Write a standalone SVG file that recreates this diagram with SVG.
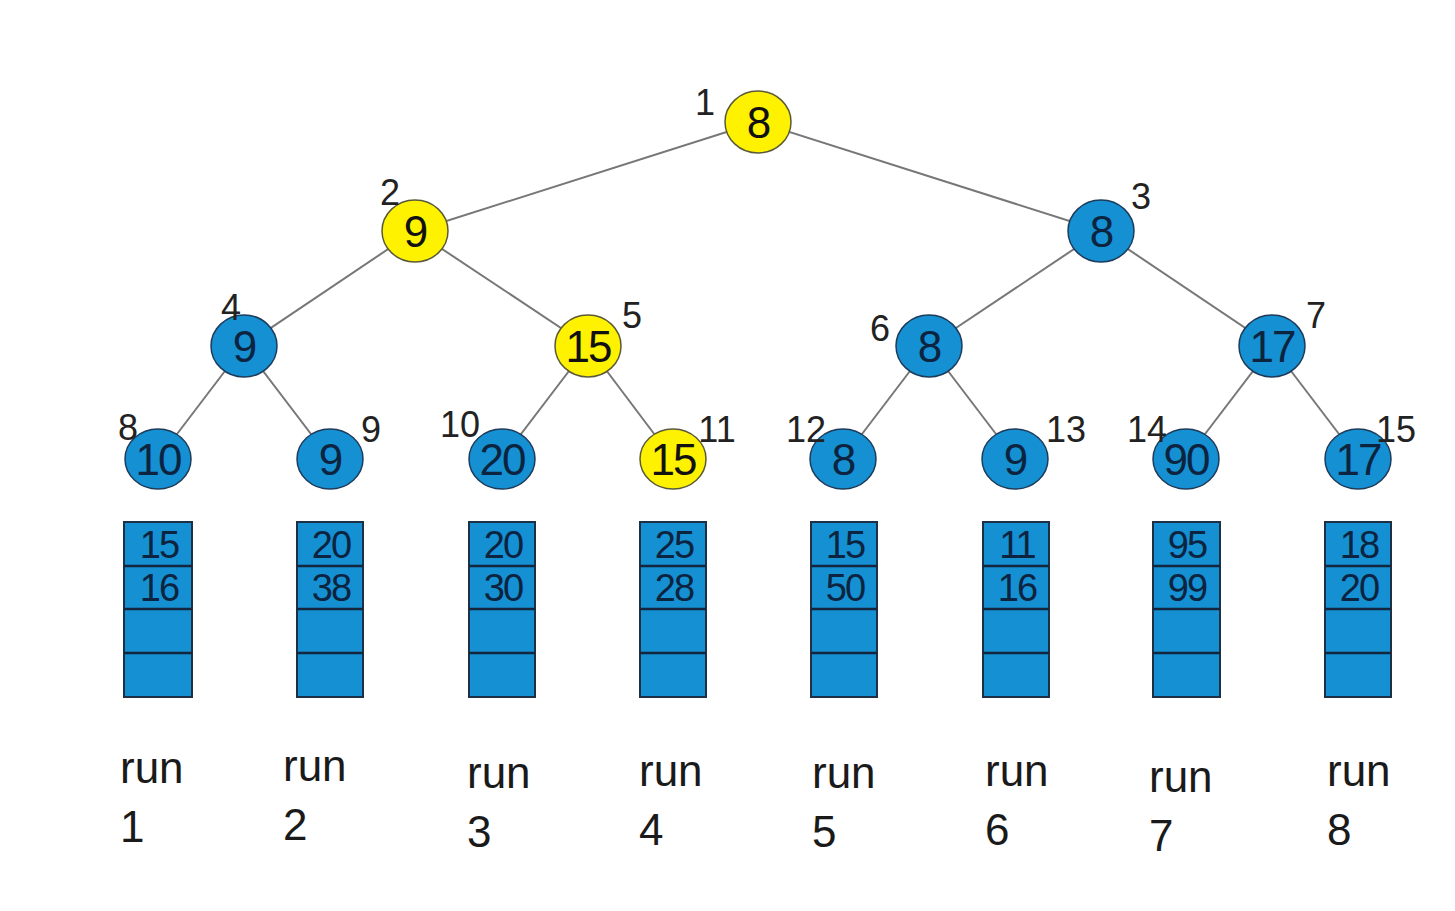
<svg xmlns="http://www.w3.org/2000/svg" width="1455" height="911" viewBox="0 0 1455 911">
<style>
.y{fill:#fff200;stroke:#5a5a3a;stroke-width:1.5}
.b{fill:#1590d2;stroke:#1d3b5a;stroke-width:1.5}
.v{font-family:"Liberation Sans",Arial,sans-serif;font-size:44px;text-anchor:middle;letter-spacing:-2px}
.vy{fill:#111}
.vb{fill:#0c2440}
.idx{font-family:"Liberation Sans",Arial,sans-serif;font-size:36px;text-anchor:middle;fill:#222}
.e{stroke:#777;stroke-width:2;fill:none}
.box{fill:#1590d2;stroke:#1d3046;stroke-width:2}
.div{stroke:#13263d;stroke-width:2.5}
.bt{font-family:"Liberation Sans",Arial,sans-serif;font-size:38px;text-anchor:middle;fill:#0c2440;letter-spacing:-2px}
.run{font-family:"Liberation Sans",Arial,sans-serif;font-size:44px;fill:#1a1a1a}
</style>
<rect width="1455" height="911" fill="#fff"/>
<g id="connectors">
<line class="e" x1="758" y1="122" x2="415" y2="231"/>
<line class="e" x1="758" y1="122" x2="1101" y2="231"/>
<line class="e" x1="415" y1="231" x2="244" y2="346"/>
<line class="e" x1="415" y1="231" x2="588" y2="346"/>
<line class="e" x1="1101" y1="231" x2="929" y2="346"/>
<line class="e" x1="1101" y1="231" x2="1272" y2="346"/>
<line class="e" x1="244" y1="346" x2="158" y2="459"/>
<line class="e" x1="244" y1="346" x2="330" y2="459"/>
<line class="e" x1="588" y1="346" x2="502" y2="459"/>
<line class="e" x1="588" y1="346" x2="673" y2="459"/>
<line class="e" x1="929" y1="346" x2="843" y2="459"/>
<line class="e" x1="929" y1="346" x2="1015" y2="459"/>
<line class="e" x1="1272" y1="346" x2="1186" y2="459"/>
<line class="e" x1="1272" y1="346" x2="1358" y2="459"/>
</g>
<g id="n1"><ellipse class="y" cx="758" cy="122" rx="33" ry="31"/><text class="v vy" x="758" y="138">8</text><text class="idx" x="705" y="115">1</text></g>
<g id="n2"><ellipse class="y" cx="415" cy="231" rx="33" ry="31"/><text class="v vy" x="415" y="247">9</text><text class="idx" x="390" y="205">2</text></g>
<g id="n3"><ellipse class="b" cx="1101" cy="231" rx="33" ry="31"/><text class="v vb" x="1101" y="247">8</text><text class="idx" x="1141" y="209">3</text></g>
<g id="n4"><ellipse class="b" cx="244" cy="346" rx="33" ry="31"/><text class="v vb" x="244" y="362">9</text><text class="idx" x="231" y="320">4</text></g>
<g id="n5"><ellipse class="y" cx="588" cy="346" rx="33" ry="31"/><text class="v vy" x="588" y="362">15</text><text class="idx" x="632" y="328">5</text></g>
<g id="n6"><ellipse class="b" cx="929" cy="346" rx="33" ry="31"/><text class="v vb" x="929" y="362">8</text><text class="idx" x="880" y="341">6</text></g>
<g id="n7"><ellipse class="b" cx="1272" cy="346" rx="33" ry="31"/><text class="v vb" x="1272" y="362">17</text><text class="idx" x="1316" y="328">7</text></g>
<g id="n8"><ellipse class="b" cx="158" cy="459" rx="33" ry="30"/><text class="v vb" x="158" y="475">10</text><text class="idx" x="128" y="440">8</text></g>
<g id="n9"><ellipse class="b" cx="330" cy="459" rx="33" ry="30"/><text class="v vb" x="330" y="475">9</text><text class="idx" x="371" y="442">9</text></g>
<g id="n10"><ellipse class="b" cx="502" cy="459" rx="33" ry="30"/><text class="v vb" x="502" y="475">20</text><text class="idx" x="460" y="437">10</text></g>
<g id="n11"><ellipse class="y" cx="673" cy="459" rx="33" ry="30"/><text class="v vy" x="673" y="475">15</text><text class="idx" x="717" y="442">11</text></g>
<g id="n12"><ellipse class="b" cx="843" cy="459" rx="33" ry="30"/><text class="v vb" x="843" y="475">8</text><text class="idx" x="806" y="442">12</text></g>
<g id="n13"><ellipse class="b" cx="1015" cy="459" rx="33" ry="30"/><text class="v vb" x="1015" y="475">9</text><text class="idx" x="1066" y="442">13</text></g>
<g id="n14"><ellipse class="b" cx="1186" cy="459" rx="33" ry="30"/><text class="v vb" x="1186" y="475">90</text><text class="idx" x="1147" y="442">14</text></g>
<g id="n15"><ellipse class="b" cx="1358" cy="459" rx="33" ry="30"/><text class="v vb" x="1358" y="475">17</text><text class="idx" x="1396" y="442">15</text></g>
<g id="run1">
<rect class="box" x="124" y="522" width="68" height="175"/>
<line class="div" x1="124" y1="566" x2="192" y2="566"/><line class="div" x1="124" y1="609" x2="192" y2="609"/><line class="div" x1="124" y1="653" x2="192" y2="653"/>
<text class="bt" x="159" y="558">15</text><text class="bt" x="159" y="601">16</text>
<text class="run" x="120" y="783">run</text><text class="run" x="120" y="842">1</text>
</g>
<g id="run2">
<rect class="box" x="297" y="522" width="66" height="175"/>
<line class="div" x1="297" y1="566" x2="363" y2="566"/><line class="div" x1="297" y1="609" x2="363" y2="609"/><line class="div" x1="297" y1="653" x2="363" y2="653"/>
<text class="bt" x="331" y="558">20</text><text class="bt" x="331" y="601">38</text>
<text class="run" x="283" y="781">run</text><text class="run" x="283" y="840">2</text>
</g>
<g id="run3">
<rect class="box" x="469" y="522" width="66" height="175"/>
<line class="div" x1="469" y1="566" x2="535" y2="566"/><line class="div" x1="469" y1="609" x2="535" y2="609"/><line class="div" x1="469" y1="653" x2="535" y2="653"/>
<text class="bt" x="503" y="558">20</text><text class="bt" x="503" y="601">30</text>
<text class="run" x="467" y="788">run</text><text class="run" x="467" y="847">3</text>
</g>
<g id="run4">
<rect class="box" x="640" y="522" width="66" height="175"/>
<line class="div" x1="640" y1="566" x2="706" y2="566"/><line class="div" x1="640" y1="609" x2="706" y2="609"/><line class="div" x1="640" y1="653" x2="706" y2="653"/>
<text class="bt" x="674" y="558">25</text><text class="bt" x="674" y="601">28</text>
<text class="run" x="639" y="786">run</text><text class="run" x="639" y="845">4</text>
</g>
<g id="run5">
<rect class="box" x="811" y="522" width="66" height="175"/>
<line class="div" x1="811" y1="566" x2="877" y2="566"/><line class="div" x1="811" y1="609" x2="877" y2="609"/><line class="div" x1="811" y1="653" x2="877" y2="653"/>
<text class="bt" x="845" y="558">15</text><text class="bt" x="845" y="601">50</text>
<text class="run" x="812" y="788">run</text><text class="run" x="812" y="847">5</text>
</g>
<g id="run6">
<rect class="box" x="983" y="522" width="66" height="175"/>
<line class="div" x1="983" y1="566" x2="1049" y2="566"/><line class="div" x1="983" y1="609" x2="1049" y2="609"/><line class="div" x1="983" y1="653" x2="1049" y2="653"/>
<text class="bt" x="1017" y="558">11</text><text class="bt" x="1017" y="601">16</text>
<text class="run" x="985" y="786">run</text><text class="run" x="985" y="845">6</text>
</g>
<g id="run7">
<rect class="box" x="1153" y="522" width="67" height="175"/>
<line class="div" x1="1153" y1="566" x2="1220" y2="566"/><line class="div" x1="1153" y1="609" x2="1220" y2="609"/><line class="div" x1="1153" y1="653" x2="1220" y2="653"/>
<text class="bt" x="1187" y="558">95</text><text class="bt" x="1187" y="601">99</text>
<text class="run" x="1149" y="792">run</text><text class="run" x="1149" y="851">7</text>
</g>
<g id="run8">
<rect class="box" x="1325" y="522" width="66" height="175"/>
<line class="div" x1="1325" y1="566" x2="1391" y2="566"/><line class="div" x1="1325" y1="609" x2="1391" y2="609"/><line class="div" x1="1325" y1="653" x2="1391" y2="653"/>
<text class="bt" x="1359" y="558">18</text><text class="bt" x="1359" y="601">20</text>
<text class="run" x="1327" y="786">run</text><text class="run" x="1327" y="845">8</text>
</g>
</svg>
